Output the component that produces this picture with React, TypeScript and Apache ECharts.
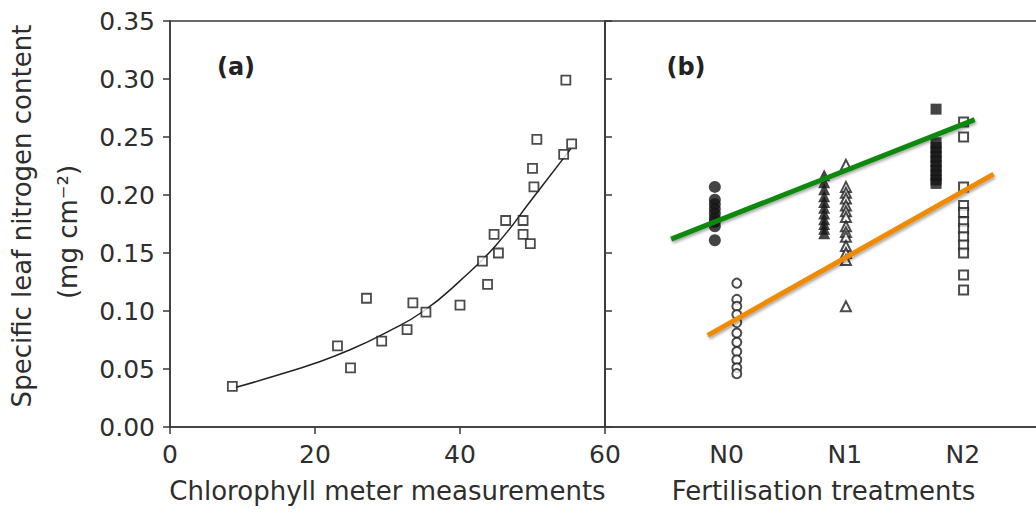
import React, { useEffect, useRef } from "react";
import * as echarts from "echarts";

// ---------- Panel (a): chlorophyll meter vs specific leaf N ----------
const chlX = [8.6, 23.1, 24.9, 27.1, 29.2, 32.7, 33.5, 35.3, 40.0, 43.1, 43.8, 44.7, 45.3, 46.3, 48.7, 48.7, 49.7, 50.2, 50.0, 50.6, 54.3, 55.4, 54.6];
const chlY = [0.035, 0.070, 0.051, 0.111, 0.074, 0.084, 0.107, 0.099, 0.105, 0.143, 0.123, 0.166, 0.150, 0.178, 0.178, 0.166, 0.158, 0.207, 0.223, 0.248, 0.235, 0.244, 0.299];
const fitX = [9, 15, 20, 25, 30, 35, 40, 45, 50, 55.3];
const fitY = [0.034, 0.045, 0.055, 0.067, 0.082, 0.100, 0.126, 0.157, 0.197, 0.240];
const xTicksA = [0, 20, 40, 60];

// ---------- Panel (b): fertilisation treatments ----------
const treatments = ["N0", "N1", "N2"];
const filledColX = [0.9, 1.826, 2.773];
const openColX = [1.086, 2.01, 3.006];
const n0Filled = [0.207, 0.196, 0.192, 0.188, 0.184, 0.180, 0.177, 0.173, 0.161];
const n0Open = [0.124, 0.110, 0.104, 0.097, 0.090, 0.081, 0.073, 0.065, 0.058, 0.051, 0.046];
const n1Filled = [0.217, 0.211, 0.205, 0.199, 0.194, 0.189, 0.184, 0.179, 0.175, 0.171, 0.167];
const n1Open = [0.226, 0.207, 0.202, 0.197, 0.191, 0.186, 0.181, 0.173, 0.168, 0.164, 0.156, 0.150, 0.144, 0.104];
const n2Filled = [0.274, 0.245, 0.241, 0.237, 0.233, 0.229, 0.225, 0.221, 0.217, 0.213, 0.210];
const n2Open = [0.263, 0.250, 0.207, 0.191, 0.185, 0.177, 0.171, 0.164, 0.157, 0.150, 0.131, 0.118];
const greenLine = [[0.53, 0.162], [3.10, 0.265]];
const orangeLine = [[0.84, 0.079], [3.26, 0.218]];

const FONT = "DejaVu Sans";
const TXT = "#2e2e2e";
const AX = "#3a3a3a";

export default function App() {
  const ref = useRef<HTMLDivElement>(null);
  useEffect(() => {
    const chart = echarts.init(ref.current!, null, { renderer: "svg" });
    const lineStyle = { color: AX, width: 1.5 };
    const openStyle = { color: "#fff", borderColor: "#1e1e1e", borderWidth: 2 };
    const filledStyle = { color: "#151515" };
    const col = (x: number, ys: number[]) => ys.map((y) => [x, y]);
    const scatterB = (name: string, data: number[][], symbol: string, size: number, style: any) => ({
      name,
      type: "scatter",
      xAxisIndex: 1,
      yAxisIndex: 1,
      symbol,
      symbolSize: size,
      itemStyle: style,
      data,
      z: 2,
    });
    const shadow = { shadowColor: "rgba(0,0,0,0.35)", shadowBlur: 3, shadowOffsetX: 1, shadowOffsetY: 2 };
    const option: any = {
      animation: false,
      backgroundColor: "#fff",
      textStyle: { fontFamily: FONT },
      grid: [
        { left: 170, top: 21, width: 435, height: 406, show: true, borderColor: AX, borderWidth: 1.5, backgroundColor: "transparent" },
        { left: 605, top: 21, width: 437, height: 406, show: true, borderColor: AX, borderWidth: 1.5, backgroundColor: "transparent" },
      ],
      xAxis: [
        {
          gridIndex: 0,
          type: "value",
          min: xTicksA[0],
          max: xTicksA[xTicksA.length - 1],
          interval: 20,
          axisLine: { show: true, onZero: false, lineStyle },
          axisTick: { show: true, length: 7, lineStyle },
          axisLabel: { margin: 15, fontSize: 25, color: TXT, fontFamily: FONT },
          splitLine: { show: false },
          name: "Chlorophyll meter measurements",
          nameLocation: "middle",
          nameGap: 51,
          nameTextStyle: { fontSize: 26, color: TXT, fontFamily: FONT },
        },
        {
          gridIndex: 1,
          type: "value",
          min: -0.03,
          max: 3.67,
          axisLine: { show: true, onZero: false, lineStyle },
          axisTick: { show: false },
          axisLabel: {
            margin: 15,
            fontSize: 25,
            color: TXT,
            fontFamily: FONT,
            customValues: [1, 2, 3],
            formatter: (v: number) => {
              const i = Math.round(v);
              return Math.abs(v - i) < 1e-6 && i >= 1 && i <= 3 ? treatments[i - 1] : "";
            },
          },
          splitLine: { show: false },
          name: "Fertilisation treatments",
          nameLocation: "middle",
          nameGap: 51,
          nameTextStyle: { fontSize: 26, color: TXT, fontFamily: FONT },
        },
      ],
      yAxis: [
        {
          gridIndex: 0,
          type: "value",
          min: 0,
          max: 0.35,
          interval: 0.05,
          axisLine: { show: true, onZero: false, lineStyle },
          axisTick: { show: true, length: 7, lineStyle },
          axisLabel: { margin: 15, fontSize: 25, color: TXT, fontFamily: FONT, formatter: (v: number) => v.toFixed(2) },
          splitLine: { show: false },
        },
        {
          gridIndex: 1,
          type: "value",
          min: 0,
          max: 0.35,
          interval: 0.05,
          axisLine: { show: true, onZero: false, lineStyle },
          axisTick: { show: true, inside: true, length: 7, lineStyle },
          axisLabel: { show: false },
          splitLine: { show: false },
        },
      ],
      series: [
        {
          name: "fit",
          type: "line",
          xAxisIndex: 0,
          yAxisIndex: 0,
          smooth: true,
          symbol: "none",
          lineStyle: { color: "#222", width: 1.5 },
          data: fitX.map((x, i) => [x, fitY[i]]),
          z: 1,
        },
        {
          name: "chlorophyll",
          type: "scatter",
          xAxisIndex: 0,
          yAxisIndex: 0,
          symbol: "rect",
          symbolSize: 9,
          itemStyle: { color: "#fff", borderColor: "#1e1e1e", borderWidth: 1.8 },
          data: chlX.map((x, i) => [x, chlY[i]]),
          z: 2,
        },
        scatterB("N0 filled", col(filledColX[0], n0Filled), "circle", 12, filledStyle),
        scatterB("N0 open", col(openColX[0], n0Open), "circle", 9, openStyle),
        scatterB("N1 filled", col(filledColX[1], n1Filled), "triangle", 12, filledStyle),
        scatterB("N1 open", col(openColX[1], n1Open), "triangle", 10, openStyle),
        scatterB("N2 filled", col(filledColX[2], n2Filled), "rect", 11, filledStyle),
        scatterB("N2 open", col(openColX[2], n2Open), "rect", 9, openStyle),
        {
          name: "green",
          type: "line",
          xAxisIndex: 1,
          yAxisIndex: 1,
          symbol: "none",
          lineStyle: { color: "#0b8a0b", width: 5, ...shadow },
          data: greenLine,
          z: 5,
        },
        {
          name: "orange",
          type: "line",
          xAxisIndex: 1,
          yAxisIndex: 1,
          symbol: "none",
          lineStyle: { color: "#f08a00", width: 5, ...shadow },
          data: orangeLine,
          z: 5,
        },
      ],
      graphic: [
        {
          type: "text",
          x: 22,
          y: 216,
          rotation: Math.PI / 2,
          style: { text: "Specific leaf nitrogen content", fontSize: 26, fontFamily: FONT, fill: TXT, align: "center", verticalAlign: "middle" },
        },
        {
          type: "text",
          x: 68,
          y: 232,
          rotation: Math.PI / 2,
          style: { text: "(mg cm⁻²)", fontSize: 26, fontFamily: FONT, fill: TXT, align: "center", verticalAlign: "middle" },
        },
        {
          type: "text",
          x: 236,
          y: 67,
          style: { text: "(a)", fontSize: 24, fontWeight: "bold", fontFamily: FONT, fill: "#222", align: "center", verticalAlign: "middle" },
        },
        {
          type: "text",
          x: 686,
          y: 67,
          style: { text: "(b)", fontSize: 24, fontWeight: "bold", fontFamily: FONT, fill: "#222", align: "center", verticalAlign: "middle" },
        },
      ],
    };
    chart.setOption(option);
    return () => chart.dispose();
  }, []);
  return (
    <div style={{ position: "absolute", left: 0, top: 0, width: 1036, height: 515, overflow: "hidden", background: "#fff" }}>
      <div ref={ref} style={{ width: 1060, height: 515 }} />
    </div>
  );
}
